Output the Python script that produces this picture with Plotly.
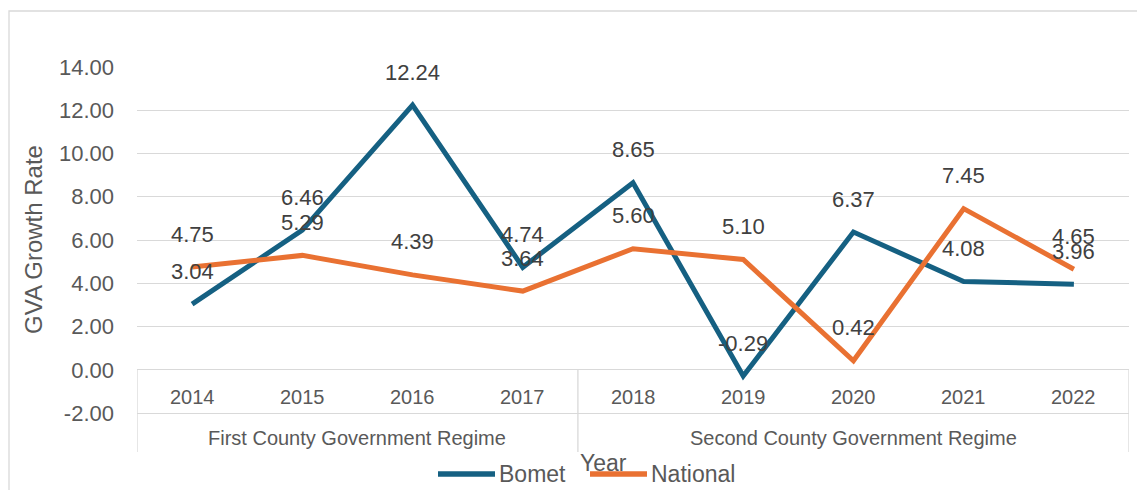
import plotly.graph_objects as go

# --- data -----------------------------------------------------------------
years = ["2014", "2015", "2016", "2017", "2018", "2019", "2020", "2021", "2022"]
regimes = ["First County Government Regime", "Second County Government Regime"]
regime_spans = [(0, 3), (4, 8)]  # first / last year index of each regime
bomet = [3.04, 6.46, 12.24, 4.74, 8.65, -0.29, 6.37, 4.08, 3.96]
national = [4.75, 5.29, 4.39, 3.64, 5.60, 5.10, 0.42, 7.45, 4.65]
y_ticks = [-2, 0, 2, 4, 6, 8, 10, 12, 14]

# --- styling --------------------------------------------------------------
W, H = 1137, 490
ML, MR, MT, MB = 137, 8, 67, 38
PW, PH = W - ML - MR, H - MT - MB
FONT = "Liberation Sans, Arial, sans-serif"
BLUE = "#156082"
ORANGE = "#E97132"
GRID = "#d9d9d9"
TXT = "#595959"
LBL = "#404040"
Y_MIN, Y_MAX = -3.8, 14


def px_x(px):
    """Horizontal pixel position -> paper coordinate."""
    return (px - ML) / PW


def px_y(py):
    """Vertical pixel position (from top) -> paper coordinate."""
    return (H - MB - py) / PH


xs = list(range(len(years)))
fig = go.Figure()
for name, vals, color in [("Bomet", bomet, BLUE), ("National", national, ORANGE)]:
    fig.add_trace(go.Scatter(
        x=xs, y=vals, name=name, mode="lines",
        line=dict(color=color, width=5),
        showlegend=False, hoverinfo="skip",
    ))

annotations = []
shapes = []

# value labels above each point
for vals in (bomet, national):
    for i, v in enumerate(vals):
        annotations.append(dict(
            x=i, y=v, text=f"{v:.2f}", showarrow=False, yshift=33,
            font=dict(family=FONT, size=22, color=LBL),
        ))

# category table: year row and regime row under the zero line
for i, yr in enumerate(years):
    annotations.append(dict(
        x=i, y=-1.26, text=yr, showarrow=False,
        font=dict(family=FONT, size=20, color=TXT),
    ))
for label, (a, b) in zip(regimes, regime_spans):
    annotations.append(dict(
        x=(a + b) / 2, y=-3.16, text=label, showarrow=False,
        font=dict(family=FONT, size=20, color=TXT),
    ))
    shapes.append(dict(type="line", xref="x", yref="y",
                       x0=a - 0.5, x1=a - 0.5, y0=0, y1=Y_MIN,
                       line=dict(color=GRID, width=1.3)))
shapes.append(dict(type="line", xref="x", yref="y",
                   x0=len(years) - 0.5, x1=len(years) - 0.5, y0=0, y1=Y_MIN,
                   line=dict(color=GRID, width=1.3)))

# y-axis title
annotations.append(dict(
    xref="paper", yref="paper", x=px_x(33), y=px_y(240),
    xanchor="center", yanchor="middle",
    text="GVA Growth Rate", textangle=-90, showarrow=False,
    font=dict(family=FONT, size=24, color=TXT),
))
# x-axis title
annotations.append(dict(
    xref="paper", yref="paper", x=px_x(603), y=px_y(463),
    xanchor="center", yanchor="middle",
    text="Year", showarrow=False,
    font=dict(family=FONT, size=23, color=TXT),
))

# legend: line swatch + name
for name, color, x0, x1, tx in [("Bomet", BLUE, 438, 495, 497),
                                ("National", ORANGE, 590, 647, 649)]:
    shapes.append(dict(type="line", xref="paper", yref="paper",
                       x0=px_x(x0), x1=px_x(x1), y0=px_y(474), y1=px_y(474),
                       line=dict(color=color, width=5.5)))
    annotations.append(dict(
        xref="paper", yref="paper", x=px_x(tx), y=px_y(474),
        text=name, showarrow=False, xanchor="left", yanchor="middle",
        font=dict(family=FONT, size=23, color=TXT),
    ))

# chart border
shapes.append(dict(type="rect", xref="paper", yref="paper",
                   x0=px_x(9), x1=px_x(W + 20), y0=px_y(H + 20), y1=px_y(11),
                   line=dict(color=GRID, width=1.3), fillcolor="rgba(0,0,0,0)",
                   layer="below"))

fig.update_layout(
    width=W, height=H,
    margin=dict(l=ML, r=MR, t=MT, b=MB, pad=0),
    paper_bgcolor="white", plot_bgcolor="white",
    font=dict(family=FONT, color=TXT),
    xaxis=dict(range=[-0.5, len(years) - 0.5], showgrid=False, zeroline=False,
               showticklabels=False, ticks="", showline=False, fixedrange=True),
    yaxis=dict(range=[Y_MIN, Y_MAX], tickvals=y_ticks,
               ticktext=[f"{t:.2f}" for t in y_ticks],
               showgrid=True, gridcolor=GRID, gridwidth=1.3,
               zeroline=False, showline=False, ticks="",
               ticklabelstandoff=22,
               tickfont=dict(family=FONT, size=22, color=TXT), fixedrange=True),
    annotations=annotations,
    shapes=shapes,
    showlegend=False,
)

fig.write_html("out.html")
